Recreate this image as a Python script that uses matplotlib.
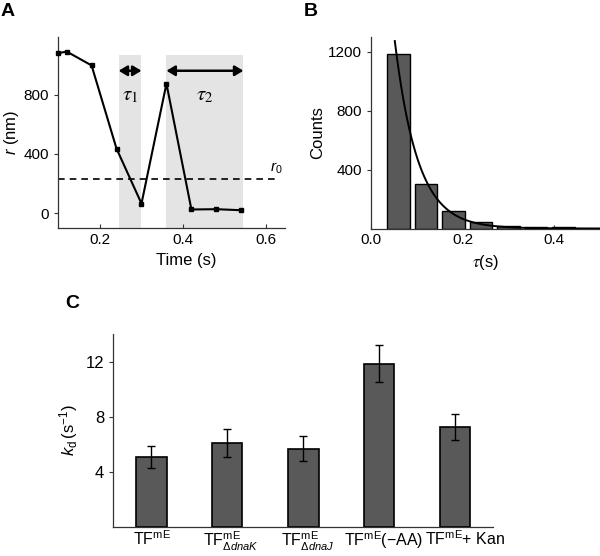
import numpy as np
import matplotlib
matplotlib.use("Agg")
import matplotlib.pyplot as plt
from matplotlib.transforms import ScaledTranslation

plt.rcParams['font.family'] = ['Liberation Sans', 'DejaVu Sans']
plt.rcParams['mathtext.fontset'] = 'custom'
plt.rcParams['mathtext.rm'] = 'Liberation Sans'
plt.rcParams['mathtext.it'] = 'Liberation Sans:italic'
plt.rcParams['mathtext.bf'] = 'Liberation Sans:bold'

# ---- Panel A data ----
time_s = [0.10, 0.12, 0.18, 0.24, 0.30, 0.36, 0.42, 0.48, 0.54]
r_nm = [1080, 1092, 998, 436, 65, 875, 25, 27, 20]
r0 = 229
tau1_span = [0.245, 0.30]
tau2_span = [0.36, 0.545]
a_xticks = [0.2, 0.4, 0.6]
a_yticks = [0, 400, 800]

# ---- Panel B data ----
bin_centers = [0.06, 0.12, 0.18, 0.24, 0.30, 0.36, 0.42]
counts = [1185, 302, 118, 41, 20, 7, 12]
fit_A = 3600
fit_tau = 0.05
b_xticks = [0.0, 0.2, 0.4]
b_yticks = [400, 800, 1200]

# ---- Panel C data ----
c_labels = [r'TF$^{\mathrm{mE}}$',
            r'TF$^{\mathrm{mE}}_{\Delta\mathit{dnaK}}$',
            r'TF$^{\mathrm{mE}}_{\Delta\mathit{dnaJ}}$',
            r'TF$^{\mathrm{mE}}$(−AA)',
            r'TF$^{\mathrm{mE}}$+ Kan']
kd = [5.1, 6.07, 5.67, 11.87, 7.25]
kd_err = [0.8, 1.03, 0.92, 1.35, 0.95]
c_yticks = [4, 8, 12]

W, H = 600, 556
fig = plt.figure(figsize=(6, 5.56), dpi=100)

def ax_px(l, r, t, b):
    return fig.add_axes([l / W, 1 - b / H, (r - l) / W, (b - t) / H])

spine_col = '#333333'
bar_col = '#595959'

def style(ax, size=11):
    for s in ['top', 'right']:
        ax.spines[s].set_visible(False)
    for s in ['left', 'bottom']:
        ax.spines[s].set_color(spine_col)
        ax.spines[s].set_linewidth(0.9)
    ax.tick_params(axis='x', direction='in', length=3, width=0.8, color=spine_col, labelsize=size)
    ax.tick_params(axis='y', direction='out', length=3, width=0.8, color=spine_col, labelsize=size)

# ---------------- Panel A ----------------
axA = ax_px(58.3, 285, 37, 228)
style(axA)
shade_top = (1066 + 100) / (1190 + 100)
axA.axvspan(tau1_span[0], tau1_span[1], ymin=0, ymax=shade_top, color='#e4e4e4', lw=0)
axA.axvspan(tau2_span[0], tau2_span[1], ymin=0, ymax=shade_top, color='#e4e4e4', lw=0)
axA.plot([0.1, 0.622], [r0, r0], ls=(0, (4, 3)), color='black', lw=1.2)
axA.plot(time_s, r_nm, color='black', lw=1.5, marker='s', ms=3.5, clip_on=False, zorder=5)
for span in (tau1_span, tau2_span):
    axA.annotate('', xy=(span[0], 962), xytext=(span[1], 962),
                 arrowprops=dict(arrowstyle='<|-|>,head_length=0.5,head_width=0.3',
                                 color='black', lw=1.8, shrinkA=0, shrinkB=0))
axA.text(0.272, 795, r'$\tau_1$', ha='center', va='center', fontsize=15, math_fontfamily='stix')
axA.text(0.452, 795, r'$\tau_2$', ha='center', va='center', fontsize=15, math_fontfamily='stix')
axA.text(0.61, 300, r'$\mathit{r}_0$', ha='left', va='center', fontsize=11)
axA.set_xlim(0.1, 0.645)
axA.set_ylim(-100, 1190)
axA.set_xticks(a_xticks)
axA.set_xticklabels(['0.2', '0.4', '0.6'])
axA.set_yticks(a_yticks)
axA.set_xlabel('Time (s)', fontsize=12, labelpad=1)
axA.xaxis.set_label_coords((186 - 58.3) / (285 - 58.3), -0.13)
axA.set_ylabel(r'$\mathit{r}$ (nm)', fontsize=12, labelpad=2)
fig.text(8 / W, 1 - 11 / H, 'A', fontsize=14, fontweight='bold', ha='center', va='center')

# ---------------- Panel B ----------------
axB = ax_px(371, 600, 37, 228.5)
style(axB)
axB.bar(bin_centers, counts, width=0.049, color=bar_col, edgecolor='black', lw=1.0, zorder=2)
t_fit = np.linspace(0.052, 0.5, 200)
axB.plot(t_fit, fit_A * np.exp(-t_fit / fit_tau), color='black', lw=1.4, zorder=3)
axB.set_xlim(0, 0.5)
axB.set_ylim(0, 1300)
axB.set_xticks(b_xticks)
axB.set_xticklabels(['0.0', '0.2', '0.4'])
axB.set_yticks(b_yticks)
axB.set_xlabel(r'$\tau$(s)', fontsize=12, labelpad=1)
axB.xaxis.set_label_coords(0.5, -0.13)
axB.xaxis.label.set_math_fontfamily('stix')
axB.set_ylabel('Counts', fontsize=12, labelpad=2)
fig.text(311 / W, 1 - 11 / H, 'B', fontsize=14, fontweight='bold', ha='center', va='center')

# ---------------- Panel C ----------------
axC = ax_px(113.3, 493.3, 334.3, 526.7)
style(axC, size=12)
x = np.arange(len(kd))
axC.bar(x, kd, width=0.4, color=bar_col, edgecolor='black', lw=1.2, zorder=2)
axC.errorbar(x, kd, yerr=kd_err, fmt='none', ecolor='black', elinewidth=1.0, capsize=3, capthick=1.0, zorder=3)
axC.set_xlim(-0.5, 4.5)
axC.set_ylim(0, 14)
axC.set_yticks(c_yticks)
axC.set_xticks(x)
axC.set_xticklabels(c_labels, fontsize=11.5)
axC.tick_params(axis='x', length=0, pad=2)
shifts_px = [1, 4, 4, 4, 10]
for lab, dx in zip(axC.get_xticklabels(), shifts_px):
    lab.set_transform(lab.get_transform() + ScaledTranslation(dx / 100, 0, fig.dpi_scale_trans))
axC.set_ylabel(r'$\mathit{k}_{\mathrm{d}}\,$(s$^{-1}$)', fontsize=12, labelpad=4)
fig.text(72 / W, 1 - 304 / H, 'C', fontsize=14, fontweight='bold', ha='center', va='center')

fig.savefig('out.png', dpi=100)
